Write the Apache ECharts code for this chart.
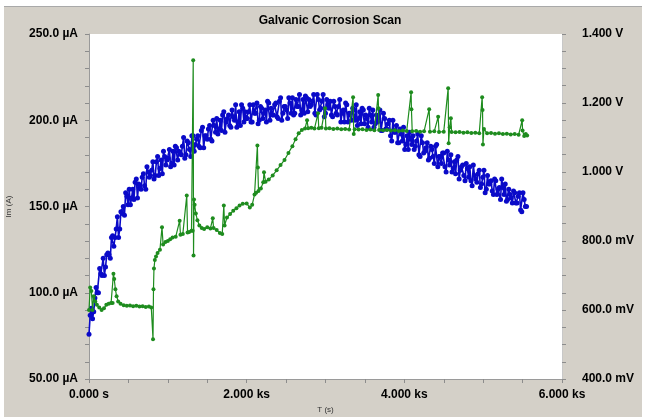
<!DOCTYPE html>
<html>
<head>
<meta charset="utf-8">
<title>Galvanic Corrosion Scan</title>
<script src="https://cdn.jsdelivr.net/npm/echarts@6/dist/echarts.min.js"></script>
<style>
  html, body { margin: 0; padding: 0; background: #ffffff; }
  #chart {
    position: absolute;
    left: 4px;
    top: 6px;
    width: 638px;
    height: 410px;
    background: #d4d0c8;
    border-top: 1px solid #a9a9a9;
  }
</style>
</head>
<body>
<div id="chart"></div>
<script>
// Current (Im) samples, one every 15 s from t = 0
const currentStartS = 0;
const currentStepS = 15;
const currentUA = [
  76, 87, 91, 85, 89, 97, 103, 100, 100, 114, 111, 110, 120, 110, 115, 122, 123, 122, 120, 132,
  133, 127, 132, 137, 144, 132, 137, 147, 146, 150, 145, 158, 156, 151, 160, 151, 155, 160, 154, 164,
  166, 155, 163, 162, 160, 167, 169, 162, 160, 173, 170, 167, 168, 171, 176, 166, 168, 176, 179, 168,
  172, 177, 169, 182, 179, 174, 177, 178, 183, 173, 175, 182, 174, 185, 184, 177, 182, 181, 180, 185,
  190, 178, 180, 188, 187, 183, 179, 191, 191, 182, 186, 189, 191, 185, 184, 194, 196, 184, 191, 191,
  189, 195, 197, 189, 188, 200, 197, 193, 201, 192, 195, 200, 194, 203, 205, 193, 199, 201, 203, 197,
  196, 206, 202, 200, 209, 196, 199, 205, 197, 209, 207, 199, 205, 201, 201, 205, 209, 199, 199, 209,
  204, 204, 210, 198, 200, 208, 207, 201, 204, 206, 199, 211, 210, 200, 207, 203, 203, 209, 210, 202,
  201, 211, 213, 200, 204, 208, 208, 206, 201, 213, 210, 204, 213, 203, 204, 212, 208, 208, 215, 203,
  206, 212, 204, 214, 213, 205, 212, 208, 209, 211, 215, 204, 203, 215, 212, 206, 207, 211, 215, 202,
  204, 212, 209, 207, 211, 203, 202, 211, 208, 204, 203, 208, 212, 199, 204, 206, 199, 210, 209, 199,
  204, 204, 200, 207, 206, 200, 209, 197, 201, 205, 198, 207, 206, 198, 203, 201, 196, 207, 203, 199,
  206, 196, 198, 203, 199, 201, 206, 194, 194, 204, 201, 195, 195, 198, 200, 191, 188, 200, 193, 193,
  197, 187, 187, 195, 192, 188, 196, 183, 186, 191, 183, 193, 189, 186, 191, 183, 185, 188, 192, 180,
  179, 191, 187, 181, 182, 184, 187, 177, 178, 185, 183, 179, 175, 185, 186, 173, 179, 179, 175, 181,
  181, 173, 170, 182, 177, 174, 180, 170, 172, 176, 169, 177, 179, 166, 171, 173, 174, 168, 165, 175,
  172, 167, 173, 165, 162, 174, 168, 166, 164, 169, 171, 161, 163, 167, 171, 158, 160, 168, 163, 163,
  165, 159, 157, 166, 165, 157, 160, 161, 154, 166, 161, 157, 163, 153, 154, 160, 157, 155, 152, 159,
  158, 152, 152, 156, 158, 148, 147, 158, 154, 150, 150
];

// Potential (Y2 - Vf) samples: time in s, value in V
const potentialTimeS = [
  0, 15, 30, 45, 60, 80, 100, 130, 160, 190,
  220, 250, 280, 300, 310, 320, 335, 350, 370, 400,
  440, 480, 520, 560, 600, 640, 680, 720, 760, 790,
  812, 818, 824, 835, 850, 870, 900, 926, 940, 970,
  1000, 1030, 1060, 1100, 1150, 1160, 1190, 1240, 1250, 1270,
  1300, 1315, 1322, 1326, 1332, 1340, 1355, 1375, 1400, 1430,
  1460, 1500, 1540, 1570, 1580, 1620, 1660, 1690, 1710, 1720,
  1750, 1790, 1830, 1870, 1910, 1950, 2000, 2040, 2070, 2100,
  2120, 2136, 2142, 2150, 2180, 2210, 2220, 2240, 2280, 2330,
  2380, 2430, 2480, 2530, 2580, 2620, 2660, 2700, 2740, 2766,
  2780, 2820, 2860, 2905, 2915, 2950, 2995, 3005, 3050, 3100,
  3150, 3200, 3250, 3300, 3350, 3358, 3370, 3420, 3470, 3520,
  3570, 3620, 3668, 3672, 3680, 3730, 3780, 3830, 3880, 3930,
  3980, 4030, 4086, 4090, 4100, 4150, 4200, 4250, 4315, 4325,
  4380, 4429, 4440, 4500, 4556, 4562, 4575, 4590, 4600, 4650,
  4700, 4750, 4800, 4850, 4900, 4950, 4987, 4992, 4997, 5010,
  5050, 5100, 5150, 5200, 5250, 5300, 5350, 5400, 5450, 5495,
  5500, 5520, 5540, 5558
];
const potentialV = [
  0.600, 0.665, 0.655, 0.600, 0.640, 0.625, 0.615, 0.607, 0.600, 0.605,
  0.615, 0.618, 0.620, 0.620, 0.705, 0.690, 0.660, 0.640, 0.625, 0.618,
  0.614, 0.612, 0.613, 0.611, 0.612, 0.610, 0.611, 0.609, 0.610, 0.607,
  0.515, 0.660, 0.720, 0.745, 0.755, 0.765, 0.775, 0.840, 0.790, 0.797,
  0.800, 0.805, 0.810, 0.812, 0.859, 0.818, 0.820, 0.932, 0.825, 0.826,
  0.830, 0.830, 1.324, 0.758, 0.920, 0.905, 0.880, 0.860, 0.845, 0.838,
  0.835, 0.840, 0.836, 0.866, 0.838, 0.832, 0.823, 0.820, 0.903, 0.845,
  0.868, 0.878, 0.888, 0.895, 0.903, 0.908, 0.909, 0.897, 0.905, 0.935,
  0.940, 1.077, 1.013, 0.945, 0.952, 0.970, 0.999, 0.972, 0.978, 0.990,
  1.005, 1.020, 1.035, 1.055, 1.075, 1.095, 1.112, 1.122, 1.126, 1.150,
  1.127, 1.128, 1.126, 1.170, 1.127, 1.128, 1.185, 1.126, 1.127, 1.125,
  1.126, 1.124, 1.125, 1.123, 1.217, 1.110, 1.124, 1.123, 1.124, 1.122,
  1.123, 1.121, 1.223, 1.185, 1.122, 1.121, 1.122, 1.120, 1.121, 1.119,
  1.120, 1.119, 1.231, 1.182, 1.118, 1.119, 1.117, 1.118, 1.182, 1.117,
  1.118, 1.160, 1.116, 1.117, 1.243, 1.083, 1.130, 1.156, 1.116, 1.115,
  1.116, 1.114, 1.115, 1.113, 1.114, 1.112, 1.217, 1.180, 1.080, 1.125,
  1.112, 1.113, 1.111, 1.112, 1.110, 1.111, 1.109, 1.110, 1.108, 1.150,
  1.120, 1.104, 1.110, 1.106
];

// Tick labels
const timeTicks = [0, 2000, 4000, 6000];
const timeTickLabels = ['0.000 s', '2.000 ks', '4.000 ks', '6.000 ks'];
const currentTicks = [50, 100, 150, 200, 250];
const currentTickLabels = ['50.00 µA', '100.0 µA', '150.0 µA', '200.0 µA', '250.0 µA'];
const potentialTicks = [0.4, 0.6, 0.8, 1.0, 1.2, 1.4];
const potentialTickLabels = ['400.0 mV', '600.0 mV', '800.0 mV', '1.000 V', '1.200 V', '1.400 V'];

function tickLabel(ticks, labels) {
  return (value) => {
    const i = ticks.findIndex((t) => Math.abs(t - value) < 1e-6);
    return i >= 0 ? labels[i] : '';
  };
}

const currentData = currentUA.map((v, i) => [currentStartS + i * currentStepS, v]);
const potentialData = potentialTimeS.map((t, i) => [t, potentialV[i]]);

const chart = echarts.init(document.getElementById('chart'));

const labelFont = {
  color: '#000000',
  fontFamily: 'Liberation Sans, Arial, sans-serif',
  fontWeight: 'bold',
  fontSize: 12,
};
const nameFont = {
  color: '#333333',
  fontFamily: 'Liberation Sans, Arial, sans-serif',
  fontSize: 8,
};
const tickStyle = { color: '#8c8c8c', width: 1 };

const option = {
  animation: false,
  title: {
    text: 'Galvanic Corrosion Scan',
    left: 321,
    top: 3,
    textAlign: 'center',
    textStyle: {
      color: '#000000',
      fontFamily: 'Liberation Sans, Arial, sans-serif',
      fontWeight: 'bold',
      fontSize: 12,
    },
  },
  grid: {
    left: 85,
    right: 80,
    top: 27,
    bottom: 38,
    containLabel: false,
    outerBoundsMode: 'none',
    show: true,
    backgroundColor: '#ffffff',
    borderWidth: 0,
  },
  xAxis: {
    type: 'value',
    min: 0,
    max: 6000,
    interval: 2000,
    name: 'T (s)',
    nameLocation: 'middle',
    nameGap: 26,
    nameTextStyle: nameFont,
    axisLine: { show: true, lineStyle: { color: '#9a9a9a' } },
    axisTick: { show: true, length: 4, lineStyle: tickStyle },
    minorTick: { show: true, splitNumber: 4, length: 4, lineStyle: tickStyle },
    splitLine: { show: false },
    axisLabel: { ...labelFont, margin: 10, formatter: tickLabel(timeTicks, timeTickLabels) },
  },
  yAxis: [
    {
      type: 'value',
      min: 50,
      max: 250,
      interval: 50,
      position: 'left',
      name: 'Im (A)',
      nameLocation: 'middle',
      nameGap: 76,
      nameTextStyle: nameFont,
      axisLine: { show: true, lineStyle: { color: '#9a9a9a' } },
      axisTick: { show: true, length: 4, lineStyle: tickStyle },
      minorTick: { show: true, splitNumber: 5, length: 4, lineStyle: tickStyle },
      splitLine: { show: false },
      axisLabel: { ...labelFont, margin: 11, formatter: tickLabel(currentTicks, currentTickLabels) },
    },
    {
      type: 'value',
      min: 0.4,
      max: 1.4,
      interval: 0.2,
      position: 'right',
      name: 'Y2 - Vf (V vs. Ref.)',
      nameLocation: 'middle',
      nameRotate: -90,
      nameGap: 74,
      nameTextStyle: nameFont,
      axisLine: { show: true, lineStyle: { color: '#c8c8c8' } },
      axisTick: { show: true, length: 4, lineStyle: tickStyle },
      minorTick: { show: true, splitNumber: 4, length: 4, lineStyle: tickStyle },
      splitLine: { show: false },
      axisLabel: { ...labelFont, margin: 20, formatter: tickLabel(potentialTicks, potentialTickLabels) },
    },
  ],
  series: [
    {
      name: 'Im',
      type: 'line',
      yAxisIndex: 0,
      data: currentData,
      symbol: 'circle',
      symbolSize: 5,
      showAllSymbol: true,
      lineStyle: { color: '#0a0ac8', width: 1.6 },
      itemStyle: { color: '#0a0ac8' },
      z: 2,
    },
    {
      name: 'Y2 - Vf',
      type: 'line',
      yAxisIndex: 1,
      data: potentialData,
      symbol: 'circle',
      symbolSize: 4,
      showAllSymbol: true,
      lineStyle: { color: '#1e8c1e', width: 1.2 },
      itemStyle: { color: '#1e8c1e' },
      z: 3,
    },
  ],
};

chart.setOption(option);
</script>
</body>
</html>
